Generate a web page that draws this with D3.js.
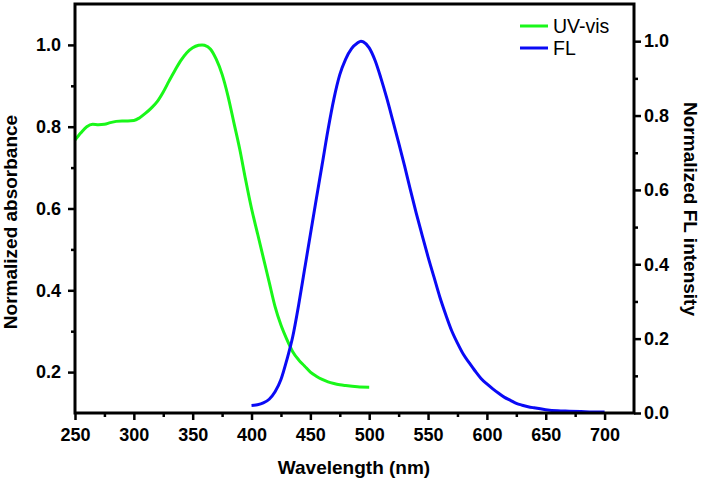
<!DOCTYPE html>
<html>
<head>
<meta charset="utf-8">
<script src="https://cdn.jsdelivr.net/npm/d3@7"></script>
<style>
  html, body { margin: 0; padding: 0; background: #fff; }
  svg { display: block; }
  text { font-family: "Liberation Sans", Arial, sans-serif; }
</style>
</head>
<body>
<svg id="chart" width="705" height="484"></svg>
<script>
// ---------- data ----------
const uvWavelength = [250,255,260,265,270,275,280,285,290,295,300,305,310,315,320,325,330,335,340,345,350,355,358,360,365,370,375,380,385,390,395,400,405,410,415,420,425,430,435,440,445,450,455,460,465,470,475,480,490,500];
const uvAbsorbance = [0.767,0.785,0.800,0.806,0.805,0.806,0.810,0.813,0.814,0.814,0.815,0.822,0.833,0.846,0.862,0.885,0.912,0.938,0.962,0.981,0.993,0.999,1.000,0.999,0.990,0.965,0.928,0.875,0.810,0.745,0.670,0.600,0.540,0.480,0.420,0.360,0.315,0.280,0.250,0.230,0.215,0.200,0.190,0.182,0.176,0.172,0.169,0.167,0.164,0.163];

const flWavelength = [400,405,410,415,420,425,430,435,440,445,450,455,460,465,470,475,480,485,490,493,495,500,505,510,515,520,525,530,535,540,545,550,555,560,565,570,575,580,585,590,595,600,605,610,615,620,625,630,635,640,650,660,670,680,690,700];
const flIntensity = [0.020,0.022,0.027,0.037,0.057,0.090,0.143,0.205,0.290,0.385,0.480,0.575,0.668,0.762,0.845,0.910,0.952,0.980,0.995,1.000,0.998,0.982,0.948,0.900,0.846,0.787,0.727,0.665,0.600,0.537,0.478,0.420,0.366,0.312,0.265,0.222,0.188,0.158,0.135,0.113,0.093,0.078,0.065,0.053,0.042,0.034,0.026,0.021,0.017,0.014,0.009,0.006,0.005,0.004,0.003,0.003];

const xMajorTicks = [250,300,350,400,450,500,550,600,650,700];
const xMinorTicks = [275,325,375,425,475,525,575,625,675];
const yLeftMajor = [0.2,0.4,0.6,0.8,1.0];
const yLeftMinor = [0.3,0.5,0.7,0.9];
const yRightMajor = [0.0,0.2,0.4,0.6,0.8,1.0];
const yRightMinor = [0.1,0.3,0.5,0.7,0.9];

const seriesNames = ["UV-vis","FL"];
const seriesColors = ["#19F719","#0A0AF5"];

// ---------- layout ----------
const svg = d3.select("#chart");
const L = 75, R = 634, T = 4, B = 413;

const x = d3.scaleLinear().domain([250,725]).range([L,R]);
const yL = d3.scaleLinear().domain([0.1,1.1]).range([B,T]);
const yR = d3.scaleLinear().domain([0,1.1]).range([B,T]);

// curves
const lineUV = d3.line().x((d,i)=>x(uvWavelength[i])).y(d=>yL(d)).curve(d3.curveMonotoneX);
const lineFL = d3.line().x((d,i)=>x(flWavelength[i])).y(d=>yR(d)).curve(d3.curveMonotoneX);

svg.append("path").attr("d", lineUV(uvAbsorbance))
  .attr("fill","none").attr("stroke",seriesColors[0]).attr("stroke-width",3).attr("stroke-linejoin","round");
svg.append("path").attr("d", lineFL(flIntensity))
  .attr("fill","none").attr("stroke",seriesColors[1]).attr("stroke-width",3).attr("stroke-linejoin","round");

// axes
function styleAxis(g, fs) {
  g.select(".domain").remove();
  g.selectAll(".tick line").attr("stroke","#000").attr("stroke-width",2.5);
  g.selectAll(".tick text").attr("fill","#000").attr("font-size",fs).attr("font-weight","bold")
    .attr("font-family","'Liberation Sans', Arial, sans-serif");
}

const gx = svg.append("g").attr("transform",`translate(0,${B})`)
  .call(d3.axisBottom(x).tickValues(xMajorTicks).tickSize(7).tickPadding(8).tickFormat(d3.format("d")));
styleAxis(gx, 18);
const gxm = svg.append("g").attr("transform",`translate(0,${B})`)
  .call(d3.axisBottom(x).tickValues(xMinorTicks).tickSize(4).tickFormat(""));
styleAxis(gxm, 18);

const gyl = svg.append("g").attr("transform",`translate(${L},0)`)
  .call(d3.axisLeft(yL).tickValues(yLeftMajor).tickSize(7).tickPadding(7).tickFormat(d3.format(".1f")));
styleAxis(gyl, 18);
const gylm = svg.append("g").attr("transform",`translate(${L},0)`)
  .call(d3.axisLeft(yL).tickValues(yLeftMinor).tickSize(4).tickFormat(""));
styleAxis(gylm, 18);

const gyr = svg.append("g").attr("transform",`translate(${R},0)`)
  .call(d3.axisRight(yR).tickValues(yRightMajor).tickSize(7).tickPadding(3).tickFormat(d3.format(".1f")));
styleAxis(gyr, 18);
const gyrm = svg.append("g").attr("transform",`translate(${R},0)`)
  .call(d3.axisRight(yR).tickValues(yRightMinor).tickSize(4).tickFormat(""));
styleAxis(gyrm, 18);

// frame
svg.append("rect").attr("x",L).attr("y",T).attr("width",R-L).attr("height",B-T)
  .attr("fill","none").attr("stroke","#000").attr("stroke-width",3);

// axis titles
svg.append("text").attr("x",354).attr("y",474).attr("text-anchor","middle")
  .attr("font-size",19).attr("font-weight","bold").text("Wavelength (nm)");
svg.append("text").attr("transform","translate(17,222) rotate(-90)").attr("text-anchor","middle")
  .attr("font-size",19).attr("font-weight","bold").text("Normalized absorbance");
svg.append("text").attr("transform","translate(684,209) rotate(90)").attr("text-anchor","middle")
  .attr("font-size",19).attr("font-weight","bold").text("Normalized FL intensity");

// legend
const legY = [26, 48];
seriesNames.forEach((name,i)=>{
  svg.append("line").attr("x1",520).attr("x2",548).attr("y1",legY[i]).attr("y2",legY[i])
    .attr("stroke",seriesColors[i]).attr("stroke-width",3);
  svg.append("text").attr("x",553).attr("y",legY[i]+7).attr("font-size",19.5).attr("fill","#000").text(name);
});
</script>
</body>
</html>
